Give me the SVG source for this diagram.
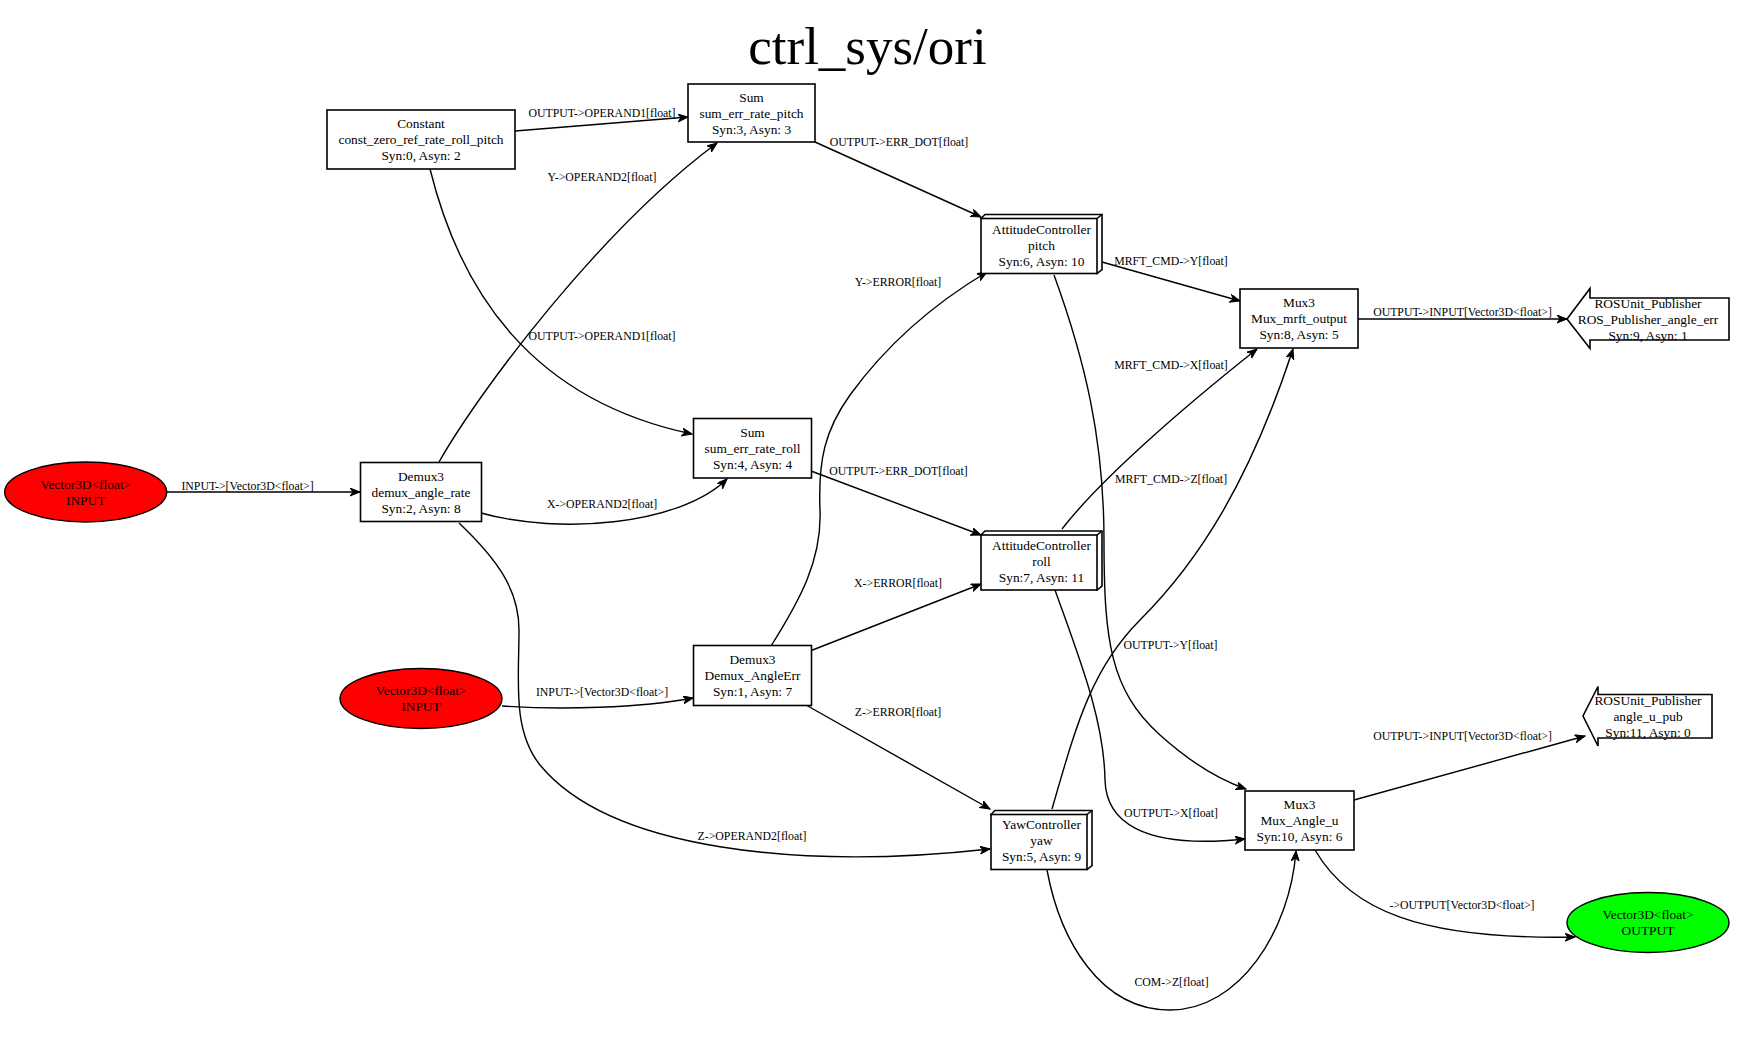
<svg xmlns="http://www.w3.org/2000/svg" width="1755" height="1039" viewBox="0 0 1755 1039">
<style>
text{font-family:"Liberation Serif","Times New Roman",serif;fill:#000}
.t{font-size:53px;text-anchor:middle}
.n{font-size:13.4px;text-anchor:middle}
.l{font-size:11.8px;text-anchor:middle}
.box{fill:#fff;stroke:#000;stroke-width:1.6}
.e{fill:none;stroke:#000;stroke-width:1.4;marker-end:url(#arr)}
</style>
<defs>
<marker id="arr" markerUnits="userSpaceOnUse" markerWidth="12" markerHeight="10" refX="10" refY="4" orient="auto">
<path d="M0,0 L10,4 L0,8 L3,4 z" fill="#000" stroke="#000" stroke-width="1"/>
</marker>
</defs>
<rect width="1755" height="1039" fill="#fff"/>
<text class="t" x="867.5" y="64">ctrl_sys/ori</text>

<g id="connectors">
<path class="e" d="M515,131 L688,117"/>
<path class="e" d="M430,169 C460,290 530,400 692,434"/>
<path class="e" d="M439,462 C480,390 600,230 717,143"/>
<path class="e" d="M481,513 C560,535 680,525 727,479"/>
<path class="e" d="M459,523 C499,561 519,591 519,630 C519,680 512,730 540,765 C610,850 800,870 990,849"/>
<path class="e" d="M771,646 C800,600 822,560 820,510 C818,460 825,430 850,395 C890,340 940,300 987,272"/>
<path class="e" d="M810,651 L981,584"/>
<path class="e" d="M806,705 L990,809"/>
<path class="e" d="M502,706 C560,710 640,708 693,698"/>
<path class="e" d="M815,142 L981,217"/>
<path class="e" d="M811,471 L981,535"/>
<path class="e" d="M1102,262 L1240,301"/>
<path class="e" d="M1054,275 C1085,360 1104,440 1104,540 C1104,640 1110,690 1160,735 C1190,762 1220,780 1246,789"/>
<path class="e" d="M1055,590 C1080,660 1104,720 1105,780 C1106,820 1140,850 1245,839"/>
<path class="e" d="M1062,529 C1100,480 1180,410 1257,349"/>
<path class="e" d="M1052,809 C1075,730 1090,670 1140,620 C1200,560 1250,480 1293,349"/>
<path class="e" d="M1047,870 C1060,940 1100,1010 1170,1010 C1240,1010 1290,930 1296,851"/>
<path class="e" d="M1358,319 L1567,319"/>
<path class="e" d="M1354,800 L1585,736"/>
<path class="e" d="M1315,850 C1350,910 1420,940 1575,937"/>
<path class="e" d="M167,492 L360,492"/>
<text class="l" x="602" y="117">OUTPUT-&gt;OPERAND1[float]</text>
<text class="l" x="602" y="340">OUTPUT-&gt;OPERAND1[float]</text>
<text class="l" x="602" y="181">Y-&gt;OPERAND2[float]</text>
<text class="l" x="602" y="508">X-&gt;OPERAND2[float]</text>
<text class="l" x="752" y="840">Z-&gt;OPERAND2[float]</text>
<text class="l" x="898" y="286">Y-&gt;ERROR[float]</text>
<text class="l" x="898" y="587">X-&gt;ERROR[float]</text>
<text class="l" x="898" y="716">Z-&gt;ERROR[float]</text>
<text class="l" x="602" y="696">INPUT-&gt;[Vector3D&lt;float&gt;]</text>
<text class="l" x="247.5" y="490">INPUT-&gt;[Vector3D&lt;float&gt;]</text>
<text class="l" x="899" y="146">OUTPUT-&gt;ERR_DOT[float]</text>
<text class="l" x="898.5" y="475">OUTPUT-&gt;ERR_DOT[float]</text>
<text class="l" x="1171" y="265">MRFT_CMD-&gt;Y[float]</text>
<text class="l" x="1171" y="369">MRFT_CMD-&gt;X[float]</text>
<text class="l" x="1171" y="483">MRFT_CMD-&gt;Z[float]</text>
<text class="l" x="1170.5" y="649">OUTPUT-&gt;Y[float]</text>
<text class="l" x="1171" y="817">OUTPUT-&gt;X[float]</text>
<text class="l" x="1171.5" y="986">COM-&gt;Z[float]</text>
<text class="l" x="1462.5" y="316">OUTPUT-&gt;INPUT[Vector3D&lt;float&gt;]</text>
<text class="l" x="1462.5" y="740">OUTPUT-&gt;INPUT[Vector3D&lt;float&gt;]</text>
<text class="l" x="1462" y="909">-&gt;OUTPUT[Vector3D&lt;float&gt;]</text>
</g>

<g id="const_zero_ref_rate_roll_pitch">
<rect class="box" x="327" y="110" width="188" height="59"/>
<text class="n" x="421" y="128">Constant</text>
<text class="n" x="421" y="144">const_zero_ref_rate_roll_pitch</text>
<text class="n" x="421" y="160">Syn:0, Asyn: 2</text>
</g>
<g id="sum_err_rate_pitch">
<rect class="box" x="688" y="84" width="127" height="58"/>
<text class="n" x="751.5" y="101.5">Sum</text>
<text class="n" x="751.5" y="117.5">sum_err_rate_pitch</text>
<text class="n" x="751.5" y="133.5">Syn:3, Asyn: 3</text>
</g>
<g id="sum_err_rate_roll">
<rect class="box" x="693.5" y="418.5" width="118" height="59.5"/>
<text class="n" x="752.5" y="436.5">Sum</text>
<text class="n" x="752.5" y="452.5">sum_err_rate_roll</text>
<text class="n" x="752.5" y="468.5">Syn:4, Asyn: 4</text>
</g>
<g id="demux_angle_rate">
<rect class="box" x="360.5" y="462.5" width="121" height="59"/>
<text class="n" x="421" y="480.5">Demux3</text>
<text class="n" x="421" y="496.5">demux_angle_rate</text>
<text class="n" x="421" y="512.5">Syn:2, Asyn: 8</text>
</g>
<g id="Demux_AngleErr">
<rect class="box" x="693.5" y="645.5" width="118" height="60"/>
<text class="n" x="752.5" y="664">Demux3</text>
<text class="n" x="752.5" y="680">Demux_AngleErr</text>
<text class="n" x="752.5" y="696">Syn:1, Asyn: 7</text>
</g>
<g id="pitch">
<path class="box" d="M981,218.5 L985,214.5 L1102,214.5 L1102,269.5 L1097,273.5 Z"/>
<rect class="box" x="981" y="218.5" width="116" height="55"/>
<path d="M1097,218.5 L1102,214.5" stroke="#000" stroke-width="1.6"/>
<text class="n" x="1041.5" y="233.5">AttitudeController</text>
<text class="n" x="1041.5" y="249.5">pitch</text>
<text class="n" x="1041.5" y="265.5">Syn:6, Asyn: 10</text>
</g>
<g id="roll">
<path class="box" d="M981,535 L985,531 L1102,531 L1102,586 L1097,590 Z"/>
<rect class="box" x="981" y="535" width="116" height="55"/>
<path d="M1097,535 L1102,531" stroke="#000" stroke-width="1.6"/>
<text class="n" x="1041.5" y="549.5">AttitudeController</text>
<text class="n" x="1041.5" y="565.5">roll</text>
<text class="n" x="1041.5" y="581.5">Syn:7, Asyn: 11</text>
</g>
<g id="yaw">
<path class="box" d="M991,814.5 L995,810.5 L1092,810.5 L1092,865.5 L1087,869.5 Z"/>
<rect class="box" x="991" y="814.5" width="96" height="55"/>
<path d="M1087,814.5 L1092,810.5" stroke="#000" stroke-width="1.6"/>
<text class="n" x="1041.5" y="828.5">YawController</text>
<text class="n" x="1041.5" y="844.5">yaw</text>
<text class="n" x="1041.5" y="860.5">Syn:5, Asyn: 9</text>
</g>
<g id="Mux_mrft_output">
<rect class="box" x="1240" y="289" width="118" height="59"/>
<text class="n" x="1299" y="307">Mux3</text>
<text class="n" x="1299" y="323">Mux_mrft_output</text>
<text class="n" x="1299" y="339">Syn:8, Asyn: 5</text>
</g>
<g id="Mux_Angle_u">
<rect class="box" x="1245" y="791" width="109" height="59"/>
<text class="n" x="1299.5" y="809">Mux3</text>
<text class="n" x="1299.5" y="825">Mux_Angle_u</text>
<text class="n" x="1299.5" y="841">Syn:10, Asyn: 6</text>
</g>
<g id="input_rate">
<ellipse cx="85.7" cy="492" rx="81" ry="30" fill="#ff0000" stroke="#000" stroke-width="1.4"/>
<text class="n" x="85.7" y="488.5">Vector3D&lt;float&gt;</text>
<text class="n" x="85.7" y="504.5">INPUT</text>
</g>
<g id="input_angle_err">
<ellipse cx="421" cy="698.5" rx="81" ry="30" fill="#ff0000" stroke="#000" stroke-width="1.4"/>
<text class="n" x="421" y="695">Vector3D&lt;float&gt;</text>
<text class="n" x="421" y="711">INPUT</text>
</g>
<g id="output_angle_u">
<ellipse cx="1648" cy="922.5" rx="81" ry="30" fill="#00ff00" stroke="#000" stroke-width="1.4"/>
<text class="n" x="1648" y="919">Vector3D&lt;float&gt;</text>
<text class="n" x="1648" y="935">OUTPUT</text>
</g>
<g id="ROS_Publisher_angle_err">
<path class="box" d="M1729,298 L1590,298 L1590,288.5 L1567,319 L1590,348.5 L1590,340 L1729,340 Z"/>
<text class="n" x="1648" y="307.5">ROSUnit_Publisher</text>
<text class="n" x="1648" y="323.5">ROS_Publisher_angle_err</text>
<text class="n" x="1648" y="339.5">Syn:9, Asyn: 1</text>
</g>
<g id="angle_u_pub">
<path class="box" d="M1712,694.5 L1598,694.5 L1598,686.5 L1583,716 L1598,746 L1598,738 L1712,738 Z"/>
<text class="n" x="1648" y="704.5">ROSUnit_Publisher</text>
<text class="n" x="1648" y="720.5">angle_u_pub</text>
<text class="n" x="1648" y="736.5">Syn:11, Asyn: 0</text>
</g>
</svg>
